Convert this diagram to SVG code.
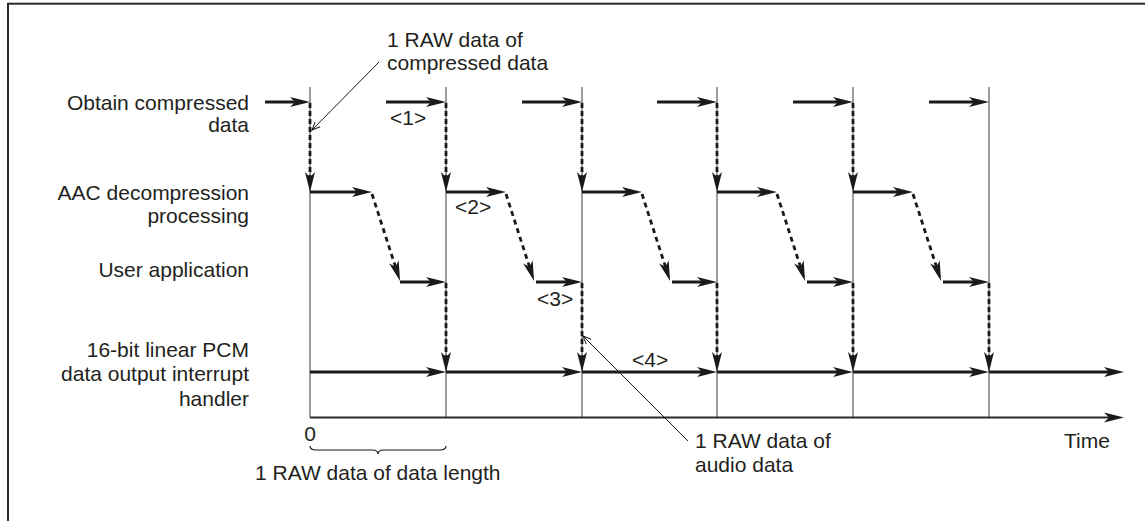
<svg xmlns="http://www.w3.org/2000/svg" width="1145" height="521" viewBox="0 0 1145 521">
  <style>
    text { font-family: "Liberation Sans", Arial, Helvetica, sans-serif; font-size: 21px; fill: #231f20; }
    .r { text-anchor: end; }
    .grid { stroke: #3a3a3a; stroke-width: 1; fill: none; }
    .solid { stroke: #1a1a1a; stroke-width: 2.8; fill: none; marker-end: url(#ah); }
    .pcm { stroke: #1a1a1a; stroke-width: 3; fill: none; marker-end: url(#ah); }
    .axis { stroke: #2a2a2a; stroke-width: 2; fill: none; marker-end: url(#ah); }
    .dash { stroke: #1a1a1a; stroke-width: 2.8; stroke-dasharray: 5 3; fill: none; marker-end: url(#ah); }
    .diag { stroke: #1a1a1a; stroke-width: 2.8; stroke-dasharray: 5 4; fill: none; marker-end: url(#ah); }
    .lead { stroke: #1a1a1a; stroke-width: 1; fill: none; marker-end: url(#lh); }
    .brace { stroke: #1a1a1a; stroke-width: 1.2; fill: none; }
  </style>
  <defs>
    <marker id="ah" markerUnits="userSpaceOnUse" markerWidth="22" markerHeight="12" refX="12" refY="5" orient="auto" overflow="visible">
      <path d="M20,5 L0,0 L5,5 L0,10 Z" fill="#1a1a1a" stroke="none"/>
    </marker>
    <marker id="lh" markerUnits="userSpaceOnUse" markerWidth="10" markerHeight="8" refX="8" refY="3.5" orient="auto" overflow="visible">
      <path d="M0,0 L8,3.5 L0,7" fill="none" stroke="#1a1a1a" stroke-width="1"/>
    </marker>
  </defs>

  <rect id="frame" x="8" y="3.7" width="1200" height="600" fill="none" stroke="#2a2a2a" stroke-width="2"/>

  <g id="label-obtain"><text class="r" x="249" y="110">Obtain compressed</text><text class="r" x="249" y="132">data</text></g>
  <g id="label-aac"><text class="r" x="249" y="200">AAC decompression</text><text class="r" x="249" y="223">processing</text></g>
  <g id="label-user"><text class="r" x="249" y="277">User application</text></g>
  <g id="label-pcm"><text class="r" x="249" y="357">16-bit linear PCM</text><text class="r" x="249" y="381">data output interrupt</text><text class="r" x="249" y="406">handler</text></g>
  <g id="note-compressed"><text x="387" y="47">1 RAW data of</text><text x="387" y="70">compressed data</text></g>
  <g id="note-audio"><text x="695" y="448">1 RAW data of</text><text x="695" y="472">audio data</text></g>
  <g id="label-zero"><text x="310" y="441" text-anchor="middle">0</text></g>
  <g id="label-length"><text x="255" y="480">1 RAW data of data length</text></g>
  <g id="label-time"><text x="1064" y="448">Time</text></g>
  <g id="step1"><text x="390" y="125">&lt;1&gt;</text></g>
  <g id="step2"><text x="455" y="214">&lt;2&gt;</text></g>
  <g id="step3"><text x="537" y="306">&lt;3&gt;</text></g>
  <g id="step4"><text x="632" y="367">&lt;4&gt;</text></g>

  <g id="connectors">
    <!-- grid verticals -->
    <path class="grid" d="M310,87V417.5 M446,87V417.5 M582,87V417.5 M717,87V417.5 M853,87V417.5 M989,87V417.5"/>
    <!-- time axis -->
    <path class="axis" d="M310,417.5H1116"/>
    <!-- obtain compressed data arrows -->
    <path class="solid" d="M265,102H302"/>
    <path class="solid" d="M386,102H438"/>
    <path class="solid" d="M522,102H574"/>
    <path class="solid" d="M657,102H709"/>
    <path class="solid" d="M793,102H845"/>
    <path class="solid" d="M929,102H981"/>
    <!-- obtain -> AAC dashed -->
    <path class="dash" d="M310,103V184"/>
    <path class="dash" d="M446,103V184"/>
    <path class="dash" d="M582,103V184"/>
    <path class="dash" d="M717,103V184"/>
    <path class="dash" d="M853,103V184"/>
    <!-- AAC arrows -->
    <path class="solid" d="M310,192H364"/>
    <path class="solid" d="M446,192H498"/>
    <path class="solid" d="M582,192H634"/>
    <path class="solid" d="M717,192H769"/>
    <path class="solid" d="M853,192H905"/>
    <!-- AAC -> user diagonals -->
    <path class="diag" d="M372,194L397.6,273.4"/>
    <path class="diag" d="M506,194L531.6,273.4"/>
    <path class="diag" d="M642,194L667.6,273.4"/>
    <path class="diag" d="M777,194L802.6,273.4"/>
    <path class="diag" d="M913,194L938.6,273.4"/>
    <!-- user arrows -->
    <path class="solid" d="M400,282H438"/>
    <path class="solid" d="M536,282H574"/>
    <path class="solid" d="M672,282H709"/>
    <path class="solid" d="M807,282H845"/>
    <path class="solid" d="M943,282H981"/>
    <!-- user -> PCM dashed -->
    <path class="dash" d="M446,283V364"/>
    <path class="dash" d="M582,283V364"/>
    <path class="dash" d="M717,283V364"/>
    <path class="dash" d="M853,283V364"/>
    <path class="dash" d="M989,283V364"/>
    <!-- PCM arrows -->
    <path class="pcm" d="M310,372H438"/>
    <path class="pcm" d="M446,372H574"/>
    <path class="pcm" d="M582,372H709"/>
    <path class="pcm" d="M717,372H845"/>
    <path class="pcm" d="M853,372H981"/>
    <path class="pcm" d="M989,372H1116"/>
    <!-- leader lines -->
    <path class="lead" d="M379,62L312,130"/>
    <path class="lead" d="M688,441L583,336"/>
    <!-- brace -->
    <path class="brace" d="M310,446Q310,450 316,450L372,450Q378,450 378,454Q378,450 384,450L440,450Q446,450 446,446"/>
  </g>
</svg>
